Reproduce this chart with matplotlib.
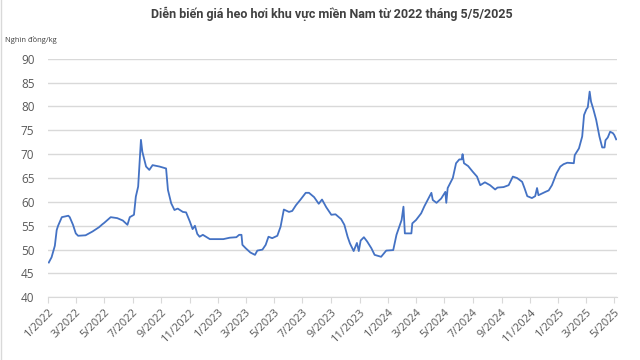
import pandas as pd
import matplotlib
matplotlib.use('Agg')
import matplotlib.pyplot as plt

# gia heo hoi mien Nam (nghin dong/kg), doc tu hinh
dates = [
    '2022-01-02', '2022-01-08', '2022-01-15', '2022-01-19', '2022-01-22', '2022-01-30',
    '2022-02-13', '2022-02-16', '2022-02-23', '2022-03-01', '2022-03-06', '2022-03-22',
    '2022-04-06', '2022-04-20', '2022-04-27', '2022-05-01', '2022-05-15', '2022-05-29',
    '2022-06-10', '2022-06-20', '2022-06-25', '2022-07-04', '2022-07-08', '2022-07-13',
    '2022-07-19', '2022-07-22', '2022-07-30', '2022-08-06', '2022-08-13', '2022-08-28',
    '2022-09-11', '2022-09-15', '2022-09-22', '2022-09-29', '2022-10-06', '2022-10-17',
    '2022-10-24', '2022-11-01', '2022-11-07', '2022-11-12', '2022-11-17', '2022-11-22',
    '2022-11-29', '2022-12-14', '2023-01-12', '2023-01-26', '2023-02-09', '2023-02-15',
    '2023-02-20', '2023-02-22', '2023-03-01', '2023-03-11', '2023-03-21', '2023-03-26',
    '2023-04-06', '2023-04-13', '2023-04-19', '2023-04-27', '2023-05-08', '2023-05-15',
    '2023-05-22', '2023-06-02', '2023-06-09', '2023-06-17', '2023-06-27', '2023-07-08',
    '2023-07-15', '2023-07-26', '2023-08-05', '2023-08-12', '2023-08-21', '2023-09-01',
    '2023-09-10', '2023-09-22', '2023-09-29', '2023-10-06', '2023-10-11', '2023-10-19',
    '2023-10-26', '2023-10-30', '2023-11-03', '2023-11-10', '2023-11-17', '2023-11-26',
    '2023-12-03', '2023-12-17', '2023-12-28', '2024-01-12', '2024-01-19', '2024-01-30',
    '2024-02-03', '2024-02-06', '2024-02-20', '2024-02-22', '2024-03-01', '2024-03-12',
    '2024-03-19', '2024-03-26', '2024-04-03', '2024-04-06', '2024-04-14', '2024-04-24',
    '2024-05-03', '2024-05-05', '2024-05-08', '2024-05-19', '2024-05-26', '2024-06-02',
    '2024-06-07', '2024-06-09', '2024-06-12', '2024-06-21', '2024-07-01', '2024-07-10',
    '2024-07-17', '2024-07-27', '2024-08-07', '2024-08-18', '2024-08-23', '2024-09-05',
    '2024-09-16', '2024-09-25', '2024-10-04', '2024-10-15', '2024-10-20', '2024-10-26',
    '2024-11-05', '2024-11-12', '2024-11-16', '2024-11-19', '2024-12-04', '2024-12-11',
    '2024-12-18', '2024-12-28', '2025-01-05', '2025-01-12', '2025-01-20', '2025-02-03',
    '2025-02-05', '2025-02-14', '2025-02-21', '2025-02-25', '2025-03-02', '2025-03-05',
    '2025-03-09', '2025-03-12', '2025-03-17', '2025-03-23', '2025-03-30', '2025-04-05',
    '2025-04-10', '2025-04-12', '2025-04-17', '2025-04-22', '2025-04-28', '2025-05-01',
    '2025-05-05',
]
prices = [
    47.3, 48.4, 50.8, 54.1, 55.0, 56.8,
    57.1, 56.8, 55.2, 53.4, 52.9, 53.0,
    53.8, 54.7, 55.3, 55.6, 56.8, 56.6,
    56.1, 55.2, 56.8, 57.3, 61.1, 63.2,
    73.0, 70.5, 67.4, 66.7, 67.7, 67.4,
    67.0, 62.5, 59.7, 58.3, 58.6, 57.9,
    57.8, 55.9, 54.3, 55.0, 53.3, 52.7,
    53.1, 52.2, 52.2, 52.5, 52.6, 53.1,
    53.1, 51.0, 50.3, 49.4, 48.9, 49.8,
    50.0, 51.0, 52.7, 52.4, 52.9, 54.8,
    58.4, 57.9, 58.1, 59.3, 60.5, 61.9,
    61.9, 61.0, 59.6, 60.5, 58.9, 57.3,
    57.4, 56.4, 55.2, 52.7, 51.3, 49.7,
    51.4, 49.7, 51.9, 52.6, 51.7, 50.3,
    48.9, 48.5, 49.8, 49.9, 53.1, 56.2,
    59.0, 53.4, 53.4, 55.5, 56.2, 57.6,
    59.1, 60.4, 61.9, 60.4, 59.8, 60.7,
    62.1, 59.8, 62.9, 65.0, 68.1, 68.9,
    68.9, 70.0, 68.1, 67.5, 66.3, 65.3,
    63.5, 64.1, 63.5, 62.6, 63.0, 63.1,
    63.5, 65.3, 65.0, 64.2, 62.9, 61.2,
    60.8, 61.2, 62.9, 61.4, 62.1, 62.4,
    63.5, 66.0, 67.4, 67.9, 68.2, 68.1,
    69.8, 71.2, 73.7, 78.2, 79.4, 79.8,
    83.1, 81.0, 79.4, 77.2, 73.7, 71.4,
    71.4, 72.9, 73.5, 74.7, 74.4, 74.0,
    73.1,
]
tick_dates = pd.date_range('2022-01-01', '2025-05-01', freq='2MS')
tick_labels = [f'{d.month}/{d.year}' for d in tick_dates]
yticks = [40, 45, 50, 55, 60, 65, 70, 75, 80, 85, 90]

plt.rcParams['font.family'] = ['Open Sans', 'DejaVu Sans']

x = pd.to_datetime(dates)
fig = plt.figure(figsize=(6.4, 3.6), dpi=100)
ax = fig.add_axes([0.0755, 0.174, 0.888, 0.663])

ax.plot(x, prices, color='#4472C4', lw=1.3)

ax.set_ylim(40, 90)
ax.set_yticks(yticks)
ax.set_xlim(pd.Timestamp('2022-01-01'), pd.Timestamp('2025-05-06'))
ax.set_xticks(tick_dates)
ax.set_xticklabels(tick_labels, rotation=45, ha='right', rotation_mode='anchor')

ax.grid(axis='y', color='#d9d9d9', lw=1)
ax.set_axisbelow(True)
for s in ['top', 'right', 'left']:
    ax.spines[s].set_visible(False)
ax.spines['bottom'].set_color('#d9d9d9')
ax.tick_params(axis='y', length=0, pad=10, labelsize=8.5, labelcolor='#595959')
ax.tick_params(axis='x', length=4, color='#d9d9d9', pad=3, labelsize=8, labelcolor='#595959')

fig.text(0.519, 0.961, 'Diễn biến giá heo hơi khu vực miền Nam từ 2022 tháng 5/5/2025',
         ha='center', va='center', fontsize=9, fontweight='bold', color='#404040',
         family=['Roboto', 'DejaVu Sans'])
fig.text(0.008, 0.89, 'Nghìn đồng/kg', ha='left', va='center', fontsize=5.5, color='#404040')
fig.add_artist(plt.Line2D([0.001, 0.001], [0, 1], color='#d9d9d9', lw=1))

plt.savefig('out.png', dpi=100)
